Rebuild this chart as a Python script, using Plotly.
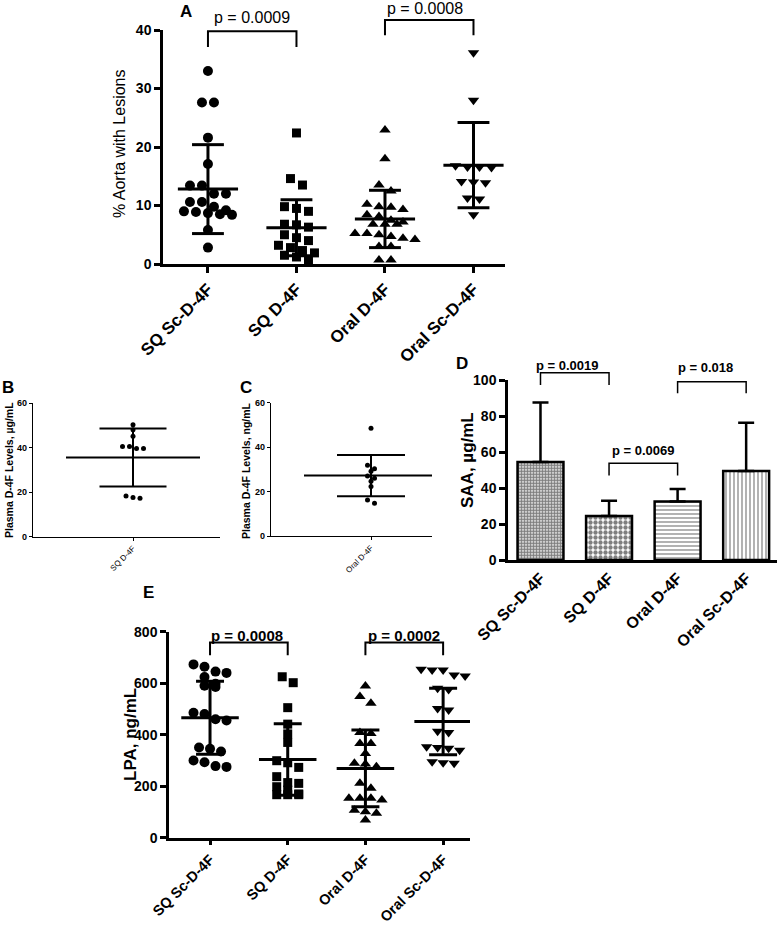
import plotly.graph_objects as go

W, H = 781, 925
FONT = "Arial, Liberation Sans, sans-serif"

# ---------------- data ----------------
groups = ["SQ Sc-D-4F", "SQ D-4F", "Oral D-4F", "Oral Sc-D-4F"]

# Panel A: % aorta with lesions
A_sq_sc = [33.0, 27.6, 27.6, 21.6, 17.1, 13.4, 13.4, 12.0, 12.0, 10.6, 10.6, 9.8, 9.2, 9.0,
           8.9, 8.7, 8.5, 8.4, 5.8, 2.8]
A_sq_d4f = [22.4, 14.6, 13.5, 9.8, 9.5, 9.0, 6.8, 6.7, 6.3, 5.0, 4.5, 4.0, 3.2, 2.8, 2.3,
            1.9, 1.5, 1.2, 0.7]
A_oral_d4f = [22.9, 18.0, 13.5, 12.5, 10.2, 9.8, 9.7, 9.3, 8.4, 8.1, 7.5, 7.2, 6.8, 6.8, 6.8,
              5.2, 5.2, 5.0, 4.7, 4.4, 4.2, 3.0, 3.0, 0.7, 0.7]
A_oral_sc = [36.1, 28.0, 16.8, 16.6, 16.6, 16.5, 14.1, 14.0, 13.9, 11.3, 11.1, 8.4]
A_means = [12.8, 6.2, 7.7, 16.9]
A_sds = [7.6, 4.8, 4.9, 7.3]
A_pvals = ["p = 0.0009", "p = 0.0008"]

# Panel B / C: plasma D-4F levels
B_vals = [50.2, 48.0, 45.0, 40.5, 40.5, 39.5, 39.5, 18.2, 17.5, 17.2]
B_mean, B_sd = 35.5, 13.0
C_vals = [48.5, 31.9, 30.3, 29.2, 27.0, 26.0, 24.6, 22.3, 16.2, 14.7]
C_mean, C_sd = 27.2, 9.3

# Panel D: SAA
D_means = [54.5, 24.5, 32.5, 49.5]
D_err = [33.0, 8.4, 7.0, 26.7]
D_pvals = ["p = 0.0019", "p = 0.0069", "p = 0.018"]

# Panel E: LPA
E_sq_sc = [673, 664, 645, 640, 624, 598, 590, 585, 485, 480, 460, 455, 350, 345, 335,
           300, 293, 278, 275]
E_sq_d4f = [625, 602, 505, 441, 403, 370, 299, 291, 273, 237, 214, 211, 198, 185, 170,
            167, 167, 167]
E_oral_d4f = [589, 548, 522, 409, 405, 366, 366, 327, 289, 286, 276, 211, 192, 153, 153,
              153, 146, 107, 101, 95, 69]
E_oral_sc = [654, 651, 651, 632, 628, 580, 576, 502, 496, 413, 409, 353, 350, 347, 340,
             295, 291, 289]
E_means = [466, 304, 269, 451]
E_sds = [142, 139, 149, 129]
E_pvals = ["p = 0.0008", "p = 0.0002"]

# ---------------- layout geometry (window pixels) ----------------
# (left, right, bottom, top) of each plotting area
GEO = {
    "A": (163, 505, 264, 30),
    "B": (33, 220, 536.5, 403),
    "C": (271, 432, 536, 402.7),
    "D": (508, 777, 560, 380),
    "E": (169, 470, 837.7, 631.7),
}
XR = {"A": [-0.508, 3.356], "B": [-1.0, 0.87], "C": [-1.0, 0.61],
      "D": [-0.474, 3.45], "E": [-0.528, 3.346]}
YR = {"A": [0, 40], "B": [0, 60], "C": [0, 60], "D": [0, 100], "E": [0, 800]}
AX = {"A": ("x", "y"), "B": ("x2", "y2"), "C": ("x3", "y3"), "D": ("x4", "y4"), "E": ("x5", "y5")}


def px(x):
    return x / W


def py(y):
    return 1 - y / H


def dom(p):
    l, r, b, t = GEO[p]
    return [px(l), px(r)], [py(b), py(t)]


def ppu(p):
    l, r, b, t = GEO[p]
    return (r - l) / (XR[p][1] - XR[p][0]), (b - t) / (YR[p][1] - YR[p][0])


def fx(p, c):
    return (c - XR[p][0]) / (XR[p][1] - XR[p][0])


def fy(p, v):
    return (v - YR[p][0]) / (YR[p][1] - YR[p][0])


def swarm(values, p, d_px, s_px):
    ppx, ppy = ppu(p)
    idx = sorted(range(len(values)), key=lambda i: -values[i])
    rows, cur = [], []
    for i in idx:
        if cur and (values[cur[0]] - values[i]) * ppy > d_px * 0.85:
            rows.append(cur)
            cur = []
        cur.append(i)
    if cur:
        rows.append(cur)
    offs = [0.0] * len(values)
    for r in rows:
        n = len(r)
        for k, i in enumerate(r):
            offs[i] = (k - (n - 1) / 2) * s_px / ppx
    return offs


fig = go.Figure()


def dots(p, cat, vals, symbol, size, spacing):
    xa, ya = AX[p]
    offs = swarm(vals, p, size, spacing)
    fig.add_trace(go.Scatter(x=[cat + o for o in offs], y=vals, mode="markers",
                             marker=dict(symbol=symbol, size=size, color="black", line=dict(width=0)),
                             xaxis=xa, yaxis=ya, cliponaxis=False, hoverinfo="skip"))


def mean_sd(p, cats, means, sds, mw, cw, lw):
    xa, ya = AX[p]
    xs, ys = [], []
    for c, m, s in zip(cats, means, sds):
        xs += [c - mw, c + mw, None, c, c, None, c - cw, c + cw, None, c - cw, c + cw, None]
        ys += [m, m, None, m - s, m + s, None, m + s, m + s, None, m - s, m - s, None]
    fig.add_trace(go.Scatter(x=xs, y=ys, mode="lines", line=dict(color="black", width=lw),
                             xaxis=xa, yaxis=ya, hoverinfo="skip", cliponaxis=False))


shapes, annotations = [], []


def bracket(p, c0, c1, top, drop, lw):
    xa, ya = AX[p]
    path = (f"M {fx(p, c0)},{fy(p, drop)} L {fx(p, c0)},{fy(p, top)} "
            f"L {fx(p, c1)},{fy(p, top)} L {fx(p, c1)},{fy(p, drop)}")
    shapes.append(dict(type="path", path=path, xref=f"{xa} domain", yref=f"{ya} domain",
                       line=dict(color="black", width=lw)))


def ptext(p, xc, yv, text, size, bold):
    xa, ya = AX[p]
    annotations.append(dict(x=fx(p, xc), y=fy(p, yv), xref=f"{xa} domain", yref=f"{ya} domain",
                            text=text, showarrow=False, xanchor="center", yanchor="middle",
                            font=dict(family=FONT, size=size, color="black",
                                      weight="bold" if bold else "normal")))


def ptitle(xp, yp, text, size, bold, angle=-90):
    annotations.append(dict(x=px(xp), y=py(yp), xref="paper", yref="paper", text=text,
                            showarrow=False, textangle=angle, xanchor="center", yanchor="middle",
                            font=dict(family=FONT, size=size, color="black",
                                      weight="bold" if bold else "normal")))


# ---------------- Panel A ----------------
symbols = ["circle", "square", "triangle-up", "triangle-down"]
for i, (vals, sym, sz) in enumerate(zip([A_sq_sc, A_sq_d4f, A_oral_d4f, A_oral_sc], symbols,
                                        [10, 9, 10, 10])):
    dots("A", i, vals, sym, sz, 12)
mean_sd("A", range(4), A_means, A_sds, 0.34, 0.18, 3)
bracket("A", 0, 1, 39.8, 37.1, 2)
bracket("A", 2, 3, 41.7, 39.1, 2)
ptext("A", 0.5, 42.1, A_pvals[0], 16, False)
ptext("A", 2.45, 43.7, A_pvals[1], 16, False)

# ---------------- Panel B / C ----------------
dots("B", 0, B_vals, "circle", 5, 7)
mean_sd("B", [0], [B_mean], [B_sd], 0.67, 0.335, 2)
dots("C", 0, C_vals, "circle", 5, 7)
mean_sd("C", [0], [C_mean], [C_sd], 0.67, 0.34, 2)

# ---------------- Panel D ----------------
fig.add_trace(go.Bar(
    x=list(range(4)), y=D_means, width=0.67, xaxis="x4", yaxis="y4",
    marker=dict(color="white", line=dict(color="black", width=2.5),
                pattern=dict(shape=[".", ".", "-", "|"], size=[3, 5, 4, 4],
                             solidity=[0.7, 0.6, 0.3, 0.3], fgcolor="black", bgcolor="white")),
    error_y=dict(type="data", symmetric=False, array=D_err, arrayminus=[0, 0, 0, 0],
                 color="black", thickness=2.5, width=8),
    hoverinfo="skip"))
bracket("D", 0, 1, 104, 97.2, 1.5)
bracket("D", 1, 2, 53.7, 46.9, 1.5)
bracket("D", 2, 3, 99, 92.6, 1.5)
ptext("D", 0.4, 108, D_pvals[0], 13, True)
ptext("D", 1.5, 61, D_pvals[1], 13, True)
ptext("D", 2.4, 106.7, D_pvals[2], 13, True)

# ---------------- Panel E ----------------
for i, (vals, sym, sz) in enumerate(zip([E_sq_sc, E_sq_d4f, E_oral_d4f, E_oral_sc], symbols,
                                        [10, 9, 10, 10])):
    dots("E", i, vals, sym, sz, 11)
mean_sd("E", range(4), E_means, E_sds, 0.37, 0.18, 3)
bracket("E", 0, 1, 758, 709, 2)
bracket("E", 2, 3, 758, 709, 2)
ptext("E", 0.48, 787, E_pvals[0], 15, True)
ptext("E", 2.5, 787, E_pvals[1], 15, True)

# ---------------- titles & panel letters ----------------
ptitle(120, 143, "% Aorta with Lesions", 16, False)
ptitle(9, 470, "Plasma D-4F Levels, µg/mL", 10.5, True)
ptitle(246, 470, "Plasma D-4F Levels, ng/mL", 10.5, True)
ptitle(467, 460, "SAA, µg/mL", 17, True)
ptitle(130, 735, "LPA, ng/mL", 17, True)
for letter, (lx, ly) in zip("ABCDE", [(186, 12), (8, 388), (246, 388), (462, 363), (148, 592)]):
    ptitle(lx, ly, letter, 17, True, angle=0)


# ---------------- axes ----------------
def xaxis_cfg(p, ticktext, fsize, lw, tl, tw, ticks=True, bold=True):
    xd, _ = dom(p)
    return dict(domain=xd, range=XR[p], showline=True, linecolor="black", linewidth=lw,
                tickmode="array", tickvals=list(range(len(ticktext))), ticktext=ticktext,
                tickangle=-45, ticks="outside" if ticks else "", ticklen=tl, tickwidth=tw,
                tickcolor="black", showgrid=False, zeroline=False, fixedrange=True,
                automargin=False,
                tickfont=dict(family=FONT, size=fsize, color="black",
                              weight="bold" if bold else "normal"),
                anchor=AX[p][1])


def yaxis_cfg(p, dtick, fsize, lw, tl, tw):
    _, yd = dom(p)
    return dict(domain=yd, range=YR[p], showline=True, linecolor="black", linewidth=lw,
                tick0=0, dtick=dtick, ticks="outside", ticklen=tl, tickwidth=tw, tickcolor="black",
                showgrid=False, zeroline=False, fixedrange=True, automargin=False,
                tickfont=dict(family=FONT, size=fsize, color="black", weight="bold"),
                anchor=AX[p][0])


fig.update_layout(
    width=W, height=H, margin=dict(l=0, r=0, t=0, b=0, autoexpand=False),
    paper_bgcolor="white", plot_bgcolor="white", showlegend=False,
    xaxis=xaxis_cfg("A", groups, 17, 2.5, 6, 2.5),
    yaxis=yaxis_cfg("A", 10, 14, 2.5, 6, 2.5),
    xaxis2=xaxis_cfg("B", ["SQ D-4F"], 8, 1.3, 3, 1.3, bold=False),
    yaxis2=yaxis_cfg("B", 20, 9, 1.3, 3, 1.3),
    xaxis3=xaxis_cfg("C", ["Oral D-4F"], 8, 1.3, 3, 1.3, bold=False),
    yaxis3=yaxis_cfg("C", 20, 9, 1.3, 3, 1.3),
    xaxis4=xaxis_cfg("D", groups, 16, 2.5, 0, 2.5, ticks=False),
    yaxis4=yaxis_cfg("D", 20, 14, 2.5, 6, 2.5),
    xaxis5=xaxis_cfg("E", groups, 14.5, 2.5, 5, 2.5),
    yaxis5=yaxis_cfg("E", 200, 14, 2.5, 6, 2.5),
    shapes=shapes, annotations=annotations,
    font=dict(family=FONT, color="black"),
)

# remove the browser's default 8px body margin so the figure fills the window exactly
fig.write_html("out.html", config={"displayModeBar": False},
               post_script="document.body.style.margin='0';")
